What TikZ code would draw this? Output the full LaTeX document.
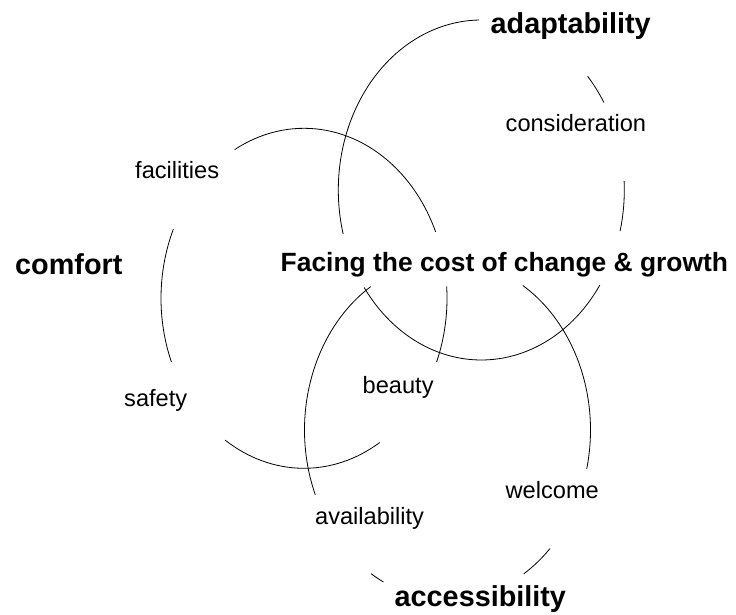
\documentclass[tikz,border=0pt]{standalone}
\usepackage{fontspec}
\setmainfont{Liberation Sans}
\newcommand\ellseg[3]{\draw[arcline] (#1) ++(#2:143 and 170) arc[start angle=#2, end angle=#3, x radius=143, y radius=170];}
\begin{document}
\begin{tikzpicture}[x=1pt,y=1pt,
  arcline/.style={line width=0.8pt, black},
  smalllabel/.style={font=\fontsize{23.6}{28}\selectfont, inner sep=0pt, anchor=base west},
  biglabel/.style={font=\fontsize{28.8}{34}\selectfont\bfseries, inner sep=0pt, anchor=base west},
  centerlabel/.style={font=\fontsize{26.4}{32}\selectfont\bfseries, inner sep=0pt, anchor=base west}]
\useasboundingbox (0,0) rectangle (736,614);
% circle centres
\coordinate (comf) at (304,315.7);
\coordinate (adap) at (481.3,424);
\coordinate (acce) at (447.5,184);
% comfort circle
\ellseg{comf}{23}{119}
\ellseg{comf}{156}{202}
\ellseg{comf}{236.5}{302}
\ellseg{comf}{338}{364}
% adaptability circle
\ellseg{adap}{91}{195}
\ellseg{adap}{215}{326}
\ellseg{adap}{346}{363}
\ellseg{adap}{31}{42}
% accessibility circle
\ellseg{acce}{122.5}{202.4}
\ellseg{acce}{237.7}{243.4}
\ellseg{acce}{302.2}{315.8}
\ellseg{acce}{346.8}{418.2}
% labels
\node[biglabel] (adaptability) at (490.5,580.7) {adaptability};
\node[biglabel] (comfort) at (15,339) {comfort};
\node[biglabel] (accessibility) at (394.5,7.3) {accessibility};
\node[centerlabel] (centre) at (280.5,342.3) {Facing the cost of change \& growth};
\node[smalllabel] (consideration) at (505.5,482.3) {consideration};
\node[smalllabel] (facilities) at (135,435.7) {facilities};
\node[smalllabel] (safety) at (124,207.3) {safety};
\node[smalllabel] (beauty) at (362.5,220.7) {beauty};
\node[smalllabel] (availability) at (315,89.7) {availability};
\node[smalllabel] (welcome) at (505.5,115.7) {welcome};
\end{tikzpicture}
\end{document}
